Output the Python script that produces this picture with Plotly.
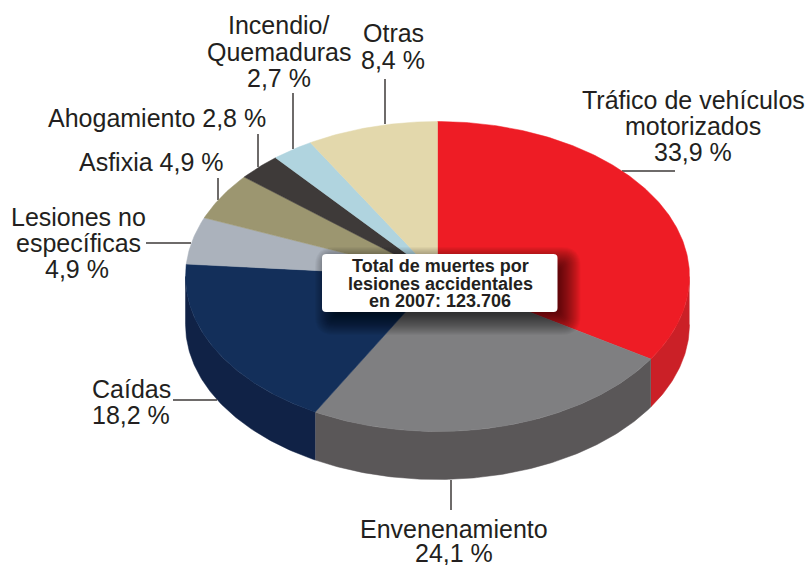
import numpy as np
import plotly.graph_objects as go

# ---- data ----
categories = ["Tráfico de vehículos motorizados", "Envenenamiento", "Caídas",
              "Lesiones no específicas", "Asfixia", "Ahogamiento",
              "Incendio/Quemaduras", "Otras"]
values = [33.9, 24.1, 18.2, 4.9, 4.9, 2.8, 2.7, 8.4]
top_colors = ["#EE1C25", "#7F7F81", "#132F5A", "#ABB2BC", "#9C9670", "#3E3A39", "#B0D4DF", "#E3D8AC"]
side_colors = ["#CB2027", "#5A5758", "#102246", "#8A9099", "#7D7859", "#2E2B2A", "#8DAAB2", "#B6AD8A"]

label_lines = [
    ("Tráfico de vehículos", 693, 100), ("motorizados", 693, 126), ("33,9 %", 693, 152),
    ("Envenenamiento", 454, 529), ("24,1 %", 454, 553),
    ("Caídas", 131, 389), ("18,2 %", 131, 415),
    ("Lesiones no", 78, 217), ("específicas", 78, 243), ("4,9 %", 77, 269),
    ("Asfixia 4,9 %", 151, 162),
    ("Ahogamiento 2,8 %", 157, 118),
    ("Incendio/", 279, 25), ("Quemaduras", 279, 52), ("2,7 %", 279, 78),
    ("Otras", 393, 33), ("8,4 %", 393, 60),
]
leaders = [
    (622, 171, 675, 171), (451, 480, 451, 510), (173, 400, 217, 400), (146, 243, 191, 243),
    (218, 178, 218, 200), (258, 134, 258, 167), (293, 93, 293, 149), (385, 79, 385, 124),
]
callout_lines = [("Total de muertes por", 266), ("lesiones accidentales", 283.5), ("en 2007: 123.706", 301)]

# ---- geometry (styling) ----
CX, CY, RX, RY, DEPTH = 437.5, 276.5, 252, 155, 48
W, H = 806, 565
TEXT = "#231F20"
FONT = "Liberation Sans, Arial, sans-serif"

fracs = np.array(values) / sum(values)
edges = np.concatenate([[0], np.cumsum(fracs)]) * 2 * np.pi


def arc(t0, t1, dz=0.0):
    t = np.linspace(t0, t1, max(3, int((t1 - t0) * 90)))
    return CX + RX * np.sin(t), CY - RY * np.cos(t) + dz


fig = go.Figure()

# side walls: only the part of the rim facing the viewer
for i, name in enumerate(categories):
    t0, t1 = max(edges[i], np.pi / 2), min(edges[i + 1], 3 * np.pi / 2)
    if t1 <= t0:
        continue
    xa, ya = arc(t0, t1)
    xb, yb = arc(t0, t1, DEPTH)
    fig.add_trace(go.Scatter(
        x=np.concatenate([xa, xb[::-1]]), y=np.concatenate([ya, yb[::-1]]),
        mode="lines", fill="toself", fillcolor=side_colors[i],
        line=dict(width=0.5, color=side_colors[i]), hoverinfo="skip", showlegend=False))

# top face
for i, name in enumerate(categories):
    xa, ya = arc(edges[i], edges[i + 1])
    fig.add_trace(go.Scatter(
        x=np.concatenate([[CX], xa, [CX]]), y=np.concatenate([[CY], ya, [CY]]),
        mode="lines", fill="toself", fillcolor=top_colors[i], name=name,
        line=dict(width=0.5, color=top_colors[i]), hoverinfo="skip", showlegend=False))

shapes = []
for x0, y0, x1, y1 in leaders:
    shapes.append(dict(type="line", x0=x0, y0=y0, x1=x1, y1=y1, layer="below",
                       line=dict(color="#3E3A39", width=1.5)))


def rrect(x0, y0, x1, y1, r):
    r = max(r, 0.5)
    return (f"M{x0+r},{y0} L{x1-r},{y0} Q{x1},{y0} {x1},{y0+r} L{x1},{y1-r} Q{x1},{y1} {x1-r},{y1} "
            f"L{x0+r},{y1} Q{x0},{y1} {x0},{y1-r} L{x0},{y0+r} Q{x0},{y0} {x0+r},{y0} Z")


BOX = (322, 254, 557.5, 312)
# soft drop shadow under the callout
for d in np.arange(15, -13, -1):
    shapes.append(dict(type="path",
                       path=rrect(BOX[0] + 8 - d, BOX[1] + 8 - d, BOX[2] + 8 + d, BOX[3] + 8 + d, 4 + max(d, 0)),
                       fillcolor="rgba(0,0,0,0.036)", line=dict(width=0), layer="above"))
shapes.append(dict(type="path", path=rrect(*BOX, 4), fillcolor="#FFFFFF", line=dict(width=0), layer="above"))

annotations = []
for text, x, y in label_lines:
    annotations.append(dict(x=x, y=y, text=text, showarrow=False, xanchor="center", yanchor="middle",
                            font=dict(family=FONT, size=25, color=TEXT)))
for text, y in callout_lines:
    annotations.append(dict(x=(BOX[0] + BOX[2]) / 2 + 0.5, y=y, text=f"<b>{text}</b>", showarrow=False,
                            xanchor="center", yanchor="middle",
                            font=dict(family=FONT, size=18, color=TEXT)))

fig.update_layout(
    width=W, height=H, margin=dict(l=0, r=0, t=0, b=0),
    paper_bgcolor="white", plot_bgcolor="white", showlegend=False,
    xaxis=dict(range=[0, W], visible=False, fixedrange=True),
    yaxis=dict(range=[H, 0], visible=False, fixedrange=True),
    shapes=shapes, annotations=annotations,
)
fig.write_html("out.html", config={"displayModeBar": False},
               post_script="document.body.style.margin='0';document.body.style.overflow='hidden';")
